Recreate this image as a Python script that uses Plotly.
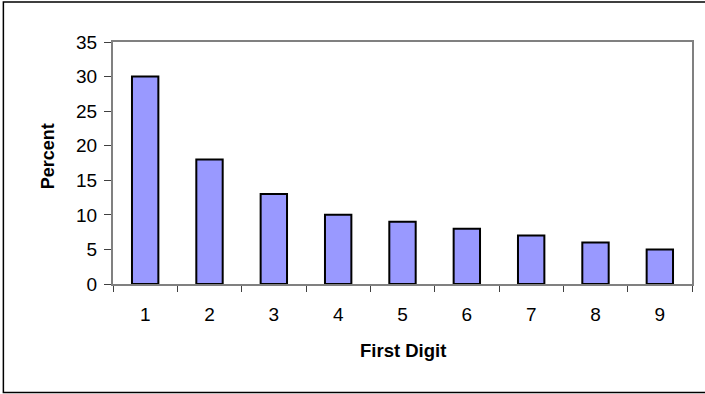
import plotly.graph_objects as go

# Distribution of leading digits
digits = ["1", "2", "3", "4", "5", "6", "7", "8", "9"]
percent = [30, 18, 13, 10, 9, 8, 7, 6, 5]
x_title = "First Digit"
y_title = "Percent"

FONT = "Liberation Sans, Arial, sans-serif"
W, H = 705, 394
ML, MR, MT, MB = 113, 11, 42, 110
PW, PH = W - ML - MR, H - MT - MB


def px_to_paper_x(px):
    return (px - ML) / PW


def px_to_paper_y(py):
    return 1 - (py - MT) / PH


fig = go.Figure(
    go.Bar(
        x=digits,
        y=percent,
        marker=dict(color="#9999FF", line=dict(color="black", width=2)),
        width=0.41,
    )
)

# Chart-area frame around the whole figure
x0, x1 = px_to_paper_x(3), px_to_paper_x(712)
y0, y1 = px_to_paper_y(392.5), px_to_paper_y(2)
fig.add_shape(type="rect", xref="paper", yref="paper", x0=x0, x1=x1, y0=y0, y1=y1,
              line=dict(color="black", width=1.5), fillcolor="rgba(0,0,0,0)", layer="below")

# Axis titles placed as annotations
fig.add_annotation(text=f"<b>{x_title}</b>", xref="paper", yref="paper",
                   x=0.5, y=px_to_paper_y(350), showarrow=False,
                   xanchor="center", yanchor="middle",
                   font=dict(family=FONT, size=18.5, color="black"))
fig.add_annotation(text=f"<b>{y_title}</b>", xref="paper", yref="paper",
                   x=px_to_paper_x(48), y=px_to_paper_y(156), showarrow=False,
                   xanchor="center", yanchor="middle", textangle=-90,
                   font=dict(family=FONT, size=18, color="black"))

fig.update_layout(
    width=W,
    height=H,
    margin=dict(l=ML, r=MR, t=MT, b=MB),
    paper_bgcolor="white",
    plot_bgcolor="white",
    showlegend=False,
    font=dict(family=FONT, size=19, color="black"),
    xaxis=dict(
        tickson="boundaries",
        ticks="outside",
        ticklen=6,
        tickwidth=1,
        tickcolor="#404040",
        showline=True,
        linecolor="#808080",
        linewidth=2,
        mirror=True,
        showgrid=False,
        tickfont=dict(family=FONT, size=19),
        ticklabelstandoff=12,
    ),
    yaxis=dict(
        range=[0, 35],
        dtick=5,
        ticks="outside",
        ticklen=7,
        tickwidth=1,
        tickcolor="#404040",
        showline=True,
        linecolor="#808080",
        linewidth=2,
        mirror=True,
        showgrid=False,
        zeroline=False,
        tickfont=dict(family=FONT, size=19),
        ticklabelstandoff=3,
    ),
)

fig.write_html("out.html")
